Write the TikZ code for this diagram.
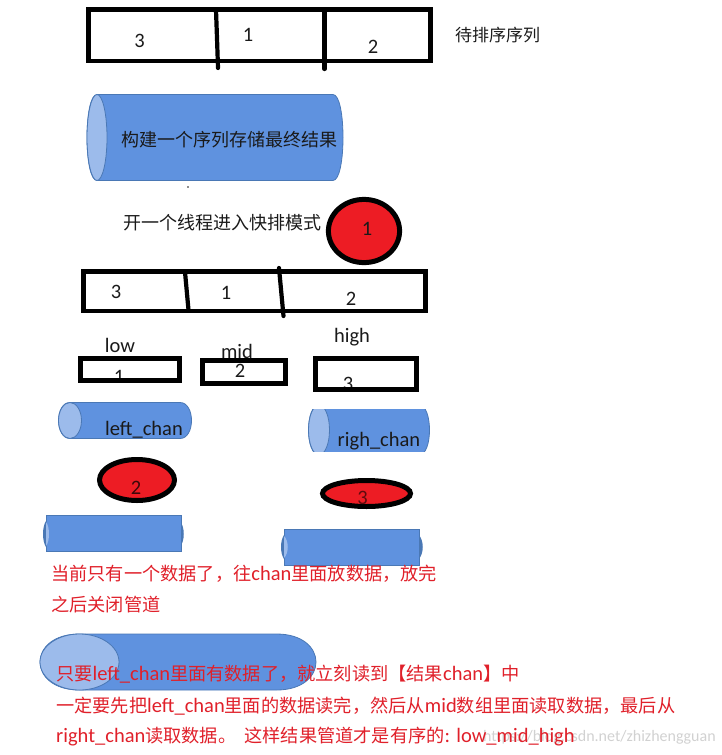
\documentclass[tikz,border=0pt]{standalone}
\usepackage{fontspec}
\setmainfont{Carlito}
\newfontfamily\zhfont{Noto Sans CJK SC}
\newcommand{\zh}[1]{{\zhfont #1}}
\newcommand{\rz}[1]{{\zhfont\fontsize{18.2}{18.2}\selectfont #1}}
\definecolor{chanblue}{HTML}{5F92DF}
\definecolor{chanlight}{HTML}{9CBBEB}
\definecolor{chanedge}{HTML}{4A78B5}
\definecolor{ballred}{HTML}{ED1C24}
\definecolor{redtext}{HTML}{E0202A}
\definecolor{inktext}{HTML}{1A1A1A}
\tikzset{
  x=1pt,y=-1pt,
  txt/.style={inner sep=0pt,text=inktext,font=\fontsize{20.5}{20.5}\selectfont},
  digit/.style={txt},
  cn/.style={inner sep=0pt,text=inktext,anchor=west,font=\fontsize{18}{18}\selectfont},
  rednote/.style={inner sep=0pt,text=redtext,anchor=west,font=\fontsize{20.5}{20.5}\selectfont},
  thickbox/.style={draw=black,line width=4.6pt,miter limit=10},
  divider/.style={draw=black,line width=4.2pt,line cap=round},
  ball/.style={draw=black,fill=ballred,line width=5pt},
  chanbody/.style={fill=chanblue,draw=chanedge,line width=0.8pt},
  chanend/.style={fill=chanlight,draw=chanedge,line width=0.8pt}
}
% x0,y0,x1,y1,rx,ry
\newcommand{\chan}[6]{%
  \path[chanbody] ({#1+#5},{#2}) -- ({#3-#5},{#2})
    .. controls ({#3+#5/3},{#2}) and ({#3+#5/3},{#4}) .. ({#3-#5},{#4})
    -- ({#1+#5},{#4})
    .. controls ({#1-#5/3},{#4}) and ({#1-#5/3},{#2}) .. ({#1+#5},{#2}) -- cycle;
  \path[chanend] ({#1+#5},{(#2+#4)/2}) ellipse [x radius=#5,y radius=#6];
}
\begin{document}
\begin{tikzpicture}
\useasboundingbox (0,0) rectangle (722,755);
% top array
\node[digit] (a3) at (139.5,41) {3};
\node[digit] (a1) at (248,35) {1};
\node[digit] (a2) at (373,47) {2};
\path[thickbox] (88.5,9.5) rectangle (430.5,61);
\path[divider] (216,10) -- (217,38) -- (218,68);
\path[divider] (324.5,10) -- (324.5,69);
\node[cn,font=\fontsize{17}{17}\selectfont] (waiting) at (455,35) {\zh{待排序序列}};
% result channel
\chan{87}{94.5}{343}{180.5}{10}{43}
\node[cn] (result) at (121,140) {\zh{构建一个序列存储最终结果}};
\node[circle,fill=inktext,inner sep=0.6pt] (speck) at (188,187) {};
% goroutine 1
\node[cn] (enter) at (123,223) {\zh{开一个线程进入快排模式}};
\path[ball] (364,231) ellipse [x radius=35.6,y radius=31.6];
\node[digit] (g1) at (367,229) {1};
% second array
\node[digit] (b3) at (116,292) {3};
\node[digit] (b1) at (226,293) {1};
\node[digit] (b2) at (351,299) {2};
\path[thickbox] (83.5,271.5) rectangle (425.5,311);
\path[divider] (185,272) -- (188.5,310);
\path[divider] (279,268) -- (283.5,316);
% low mid high
\node[txt] (low) at (120,345) {low};
\node[txt] (mid) at (237,351) {mid};
\node[txt] (high) at (352,337) {high};
\node[digit] (l1) at (119,377) {1};
\path[thickbox] (80.3,358.3) rectangle (179.7,380.7);
\node[digit] (m2) at (240,371) {2};
\path[thickbox] (202.3,360.3) rectangle (285.7,383.7);
\begin{scope}
\clip (300,358) rectangle (430,388.5);
\node[digit] (h3) at (348,384) {3};
\end{scope}
\path[thickbox] (315.3,358.3) rectangle (416.7,389.7);
% left chan
\chan{58.5}{402.5}{191.5}{438.5}{11.5}{18}
\node[txt] (leftchan) at (144,430) {left\_chan};
% right chan (cropped)
\begin{scope}
\clip (300,409.5) rectangle (435,451);
\chan{308.5}{405}{429.5}{455}{10.5}{25}
\node[txt] (rightchan) at (379,441) {righ\_chan};
\end{scope}
% balls 2 and 3
\path[ball] (137,480) ellipse [x radius=37.5,y radius=20.5];
\node[digit,text=black!75!ballred] (g2) at (136,488) {2};
\path[ball] (366.5,493.5) ellipse [x radius=44,y radius=13];
\node[digit,text=black!60!ballred] (g3) at (362.5,498) {3};
% lower channels (cropped ends)
\path[fill=chanedge] (46,521) .. controls (42,527) and (42,541) .. (46,547) -- cycle;
\path[fill=chanedge] (180,521) .. controls (185,527) and (185,541) .. (180,547) -- cycle;
\path[fill=chanblue,draw=chanedge,line width=0.6pt] (46,515.5) rectangle (181,551.5);
\path[fill=chanlight] (46,522) .. controls (50,527) and (50,541) .. (46,546) -- cycle;
\path[fill=chanedge] (284,535) .. controls (280,541) and (280,553) .. (284,559) -- cycle;
\path[fill=chanedge] (419,535) .. controls (424,541) and (424,553) .. (419,559) -- cycle;
\path[fill=chanblue,draw=chanedge,line width=0.6pt] (284,529.5) rectangle (419,565.5);
\path[fill=chanlight] (284,536) .. controls (289,541) and (289,553) .. (284,558) -- cycle;
% notes
\node[rednote] (n1) at (51,574) {\rz{当前只有一个数据了，往}chan\rz{里面放数据，放完}};
\node[rednote] (n2) at (51,605) {\rz{之后关闭管道}};
% big channel
\chan{40}{634}{316}{690}{39.5}{28}
\node[inner sep=0pt,anchor=east,text=black!18,font=\fontsize{16}{16}\selectfont] (mark) at (716,737) {https://blog.csdn.net/zhizhengguan};
\node[rednote] (n3) at (56,674) {\rz{只要}left\_chan\rz{里面有数据了，就立刻读到【结果}chan\rz{】中}};
\node[rednote] (n4) at (56,706) {\rz{一定要先把}left\_chan\rz{里面的数据读完，然后从}mid\rz{数组里面读取数据，最后从}};
\node[rednote] (n5) at (56,737) {right\_chan\rz{读取数据。\ \ 这样结果管道才是有序的}: low\_mid\_high};
\end{tikzpicture}
\end{document}
